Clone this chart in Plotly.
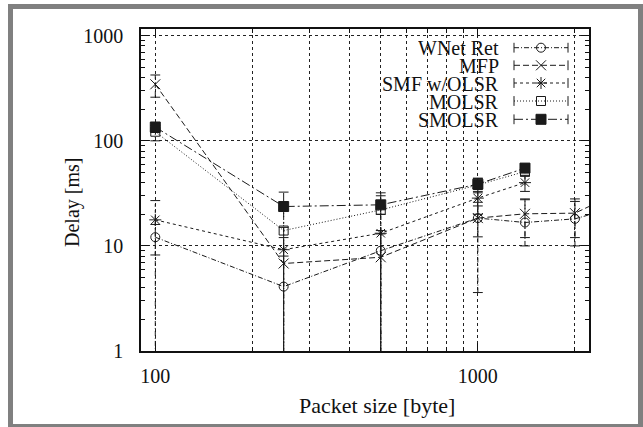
import plotly.graph_objects as go

# ---------------- data ----------------
packet_sizes = [100, 250, 500, 1000, 1400, 2000, 4000]
series_names = ["WNet Ret", "MFP", "SMF w/OLSR", "MOLSR", "SMOLSR"]

wnet_x = [100, 250, 500, 1000, 1400, 2000, 4000]
wnet_y = [12.1, 4.1, 9.0, 18.4, 16.7, 18.1, 33.0]
wnet_lo = [0, 0, 0, 3.6, 10.0, 10.0, 20.0]
wnet_hi = [16.0, 8.0, 13.0, 24.0, 27.5, 26.5, 45.0]

mfp_x = [100, 250, 500, 1000, 1400, 2000, 4000]
mfp_y = [345, 6.8, 7.8, 18.4, 20.2, 20.5, 56.0]
mfp_lo = [260, 0, 0, 12.2, 12.0, 12.0, 30.0]
mfp_hi = [423, 12.0, 14.0, 26.0, 28.0, 28.0, 80.0]

smf_x = [100, 250, 500, 1000, 1400]
smf_y = [17.7, 9.2, 13.2, 28.5, 40.0]
smf_lo = [8.2, 0, 0, 20.0, 33.0]
smf_hi = [27.0, 15.0, 20.0, 35.0, 47.0]

molsr_x = [100, 250, 500, 1000, 1400]
molsr_y = [122, 14.0, 22.0, 38.0, 51.0]
molsr_lo = [100, 0, 0, 32.0, 46.0]
molsr_hi = [140, 22.0, 30.0, 44.0, 56.0]

smolsr_x = [100, 250, 500, 1000, 1400]
smolsr_y = [135, 23.7, 24.6, 38.7, 55.0]
smolsr_lo = [120, 0, 0, 33.0, 50.0]
smolsr_hi = [150, 32.5, 32.0, 44.0, 60.0]

x_major_ticks = [100, 1000]
x_minor_ticks = [200, 300, 400, 500, 600, 700, 800, 900, 2000]
y_major_ticks = [1, 10, 100, 1000]
y_minor_ticks = [2, 3, 4, 5, 6, 7, 8, 9, 20, 30, 40, 50, 60, 70, 80, 90,
                 200, 300, 400, 500, 600, 700, 800, 900]

# ---------------- styles ----------------
INK = "#1a1a1a"
SERIF = "Liberation Serif, Times New Roman, DejaVu Serif, serif"
styles = [
    dict(symbol="circle-open", size=9, dash="5px,2px,1px,2px"),
    dict(symbol="x-thin-open", size=10, dash="6px,3px"),
    dict(symbol="asterisk-open", size=10, dash="3px,3px"),
    dict(symbol="square-open", size=9, dash="1px,2px"),
    dict(symbol="square", size=10, dash="9px,3px,2px,3px"),
]
all_series = [
    (wnet_x, wnet_y, wnet_lo, wnet_hi),
    (mfp_x, mfp_y, mfp_lo, mfp_hi),
    (smf_x, smf_y, smf_lo, smf_hi),
    (molsr_x, molsr_y, molsr_lo, molsr_hi),
    (smolsr_x, smolsr_y, smolsr_lo, smolsr_hi),
]

W, H = 643, 427
L, R, T, B = 141, 589, 29, 351
PW, PH = R - L, B - T
def pxx(x):
    return (x - L) / PW
def pxy(y):
    return (B - y) / PH

CLIP = 0.3  # lower bound below axis -> clipped by the plot area

fig = go.Figure()
for (xs, ys, lo, hi), st, name in zip(all_series, styles, series_names):
    ex, ey = [], []
    capx, capy = [], []
    for x, l, h in zip(xs, lo, hi):
        ex += [x, x, None]
        ey += [l if l > 0 else CLIP, h, None]
        capx.append(x); capy.append(h)
        if l > 0:
            capx.append(x); capy.append(l)
    fig.add_trace(go.Scatter(x=ex, y=ey, mode="lines", showlegend=False,
                             line=dict(color=INK, width=1, dash=st["dash"]),
                             hoverinfo="skip", cliponaxis=True))
    fig.add_trace(go.Scatter(x=capx, y=capy, mode="markers", showlegend=False,
                             marker=dict(symbol="line-ew", size=7,
                                         line=dict(color=INK, width=1)),
                             hoverinfo="skip", cliponaxis=True))
    fig.add_trace(go.Scatter(x=xs, y=ys, mode="lines+markers", name=name,
                             showlegend=False, cliponaxis=True,
                             line=dict(color=INK, width=1, dash=st["dash"]),
                             marker=dict(symbol=st["symbol"], size=st["size"],
                                         color=INK,
                                         line=dict(color=INK, width=1))))

# -------- legend (gnuplot style: text right-aligned, sample on the right) ----
row_y = [47.7, 65.3, 83.0, 101.0, 119.3]
text_right = 501
samp_l, samp_r, samp_m = 514, 568, 541
for name, st, ry in zip(series_names, styles, row_y):
    fig.add_annotation(text=name, xref="paper", yref="paper",
                       x=pxx(text_right), y=pxy(ry), xanchor="right",
                       yanchor="middle", showarrow=False, height=17,
                       font=dict(family=SERIF, size=20, color="#111"))
    fig.add_trace(go.Scatter(x=[pxx(samp_l), pxx(samp_r)], y=[pxy(ry)] * 2,
                             xaxis="x2", yaxis="y2", mode="lines+markers",
                             showlegend=False, hoverinfo="skip",
                             line=dict(color=INK, width=1, dash=st["dash"]),
                             marker=dict(symbol="line-ns", size=7,
                                         line=dict(color=INK, width=1))))
    fig.add_trace(go.Scatter(x=[pxx(samp_m)], y=[pxy(ry)],
                             xaxis="x2", yaxis="y2", mode="markers",
                             showlegend=False, hoverinfo="skip",
                             marker=dict(symbol=st["symbol"], size=st["size"],
                                         color=INK,
                                         line=dict(color=INK, width=1))))

font = dict(family=SERIF, size=20, color="#111")
grid = dict(showgrid=True, gridcolor="#222", gridwidth=1, griddash="3px,3px")

fig.update_layout(
    width=W, height=H,
    margin=dict(l=L, r=W - R, t=T, b=H - B),
    paper_bgcolor="white", plot_bgcolor="white",
    showlegend=False,
    font=font,
    xaxis=dict(type="log", range=[1.9557, 3.3446],
               tickvals=x_major_ticks, ticktext=[str(v) for v in x_major_ticks],
               ticks="inside", ticklen=8, tickwidth=1, tickcolor="#111",
               showline=True, linecolor="#111", linewidth=1.5, mirror="ticks",
               zeroline=False, tickfont=font, ticklabelstandoff=6,
               minor=dict(tickvals=x_minor_ticks, ticks="inside", ticklen=4,
                          tickcolor="#111", showgrid=True, gridcolor="#222",
                          gridwidth=1, griddash="3px,3px"),
               **grid),
    yaxis=dict(type="log", range=[0, 3.064],
               tickvals=y_major_ticks, ticktext=[str(v) for v in y_major_ticks],
               ticks="inside", ticklen=8, tickwidth=1, tickcolor="#111",
               showline=True, linecolor="#111", linewidth=1.5, mirror="ticks",
               zeroline=False, tickfont=font, ticklabelstandoff=12,
               minor=dict(tickvals=y_minor_ticks, ticks="inside", ticklen=4,
                          tickcolor="#111", showgrid=False),
               **grid),
    xaxis2=dict(overlaying="x", range=[0, 1], visible=False, fixedrange=True),
    yaxis2=dict(overlaying="y", range=[0, 1], visible=False, fixedrange=True),
)

fig.add_shape(type="rect", xref="paper", yref="paper",
              x0=pxx(380), x1=pxx(580), y0=pxy(128), y1=pxy(37),
              fillcolor="white", line=dict(width=0), layer="between")

fig.add_annotation(text="Packet size [byte]", xref="paper", yref="paper",
                   x=pxx(377), y=pxy(405), xanchor="center", yanchor="middle",
                   showarrow=False, font=dict(family=SERIF, size=22, color="#111"))
fig.add_annotation(text="Delay [ms]", xref="paper", yref="paper",
                   x=pxx(72), y=pxy(203), xanchor="center", yanchor="middle",
                   textangle=-90, showarrow=False, font=font)

fig.add_shape(type="rect", xref="paper", yref="paper",
              x0=pxx(10.5), x1=pxx(640.5), y0=pxy(426.5), y1=pxy(6.5),
              line=dict(color="#808080", width=5), fillcolor="rgba(0,0,0,0)",
              layer="above")

fig.write_html("out.html")
